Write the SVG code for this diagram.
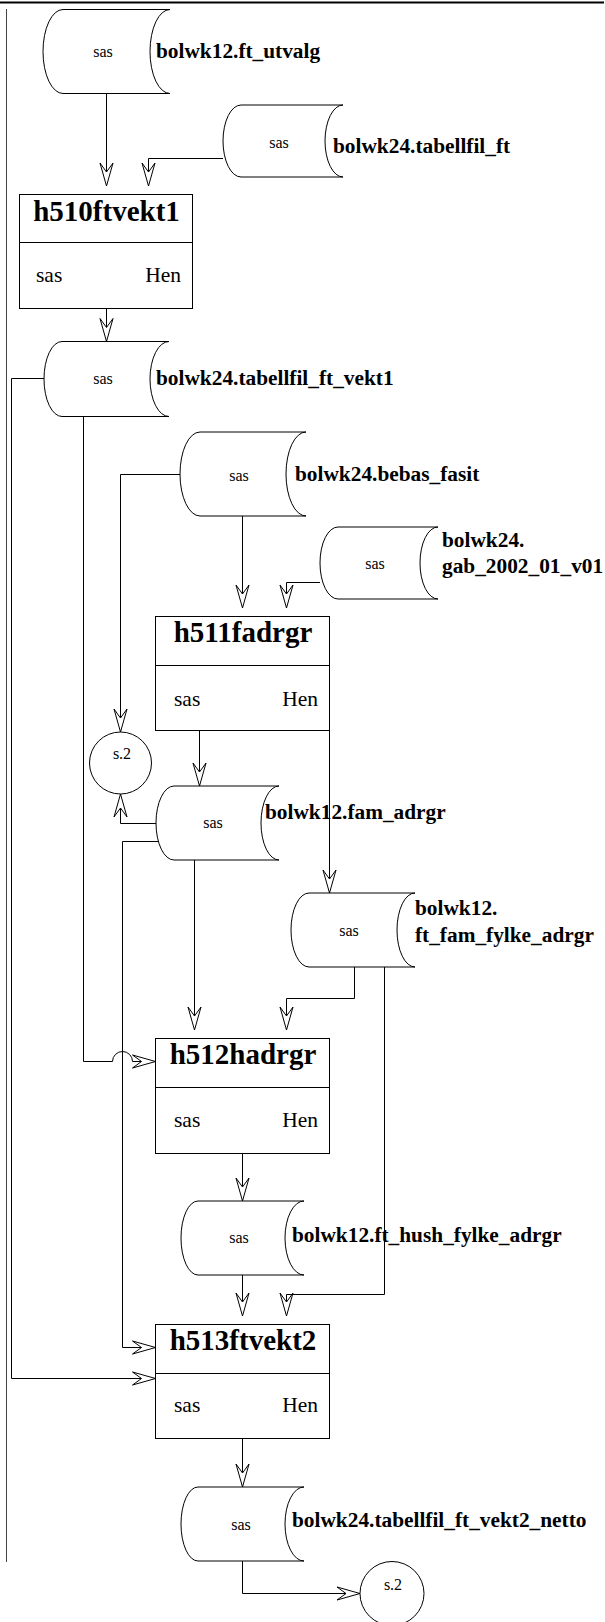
<svg xmlns="http://www.w3.org/2000/svg" width="605" height="1622" viewBox="0 0 605 1622" font-family="'Liberation Serif', 'Times New Roman', 'DejaVu Serif', serif">
<defs>
<style>
text{font-family:'Liberation Serif','Times New Roman','DejaVu Serif',serif;fill:#000}
.shape{fill:#fff;stroke:#000;stroke-width:1}
.ln{fill:none;stroke:#000;stroke-width:1}
.title{font-weight:bold;font-size:29px;text-anchor:middle}
.body{font-size:21.5px}
.small{font-size:16px;text-anchor:middle}
.lbl{font-weight:bold;font-size:21.33px}
</style>
<marker id="arr" viewBox="-25 -8 27 16" refX="0" refY="0" markerWidth="27" markerHeight="16" orient="auto" markerUnits="userSpaceOnUse">
<path d="M0,0 L-23,-6.5 L-14,0 L-23,6.5 Z" fill="#fff" stroke="#000" stroke-width="1"/>
</marker>
</defs>
<rect width="605" height="1622" fill="#fff"/>
<g id="frame">
<line x1="0" y1="2.5" x2="604" y2="2.5" stroke="#000" stroke-width="2"/>
<line x1="6.5" y1="9" x2="6.5" y2="1562" stroke="#444" stroke-width="1"/>
</g>
<g id="connectors">
<path class="ln" d="M106.5,93.5 V186" marker-end="url(#arr)"/>
<path class="ln" d="M223,158.5 H148.5 V186" marker-end="url(#arr)"/>
<path class="ln" d="M106.5,308.5 V341.5" marker-end="url(#arr)"/>
<path class="ln" d="M44,378.5 H11.5 V1378.5 H155.5" marker-end="url(#arr)"/>
<path class="ln" d="M83.5,416.5 V1061.5 H112.5 A10,10 0 0 1 132.5,1061.5 H155.5" marker-end="url(#arr)"/>
<path class="ln" d="M180,474.5 H120.5 V732" marker-end="url(#arr)"/>
<path class="ln" d="M242.5,516 V608" marker-end="url(#arr)"/>
<path class="ln" d="M320,582.5 H286.5 V608" marker-end="url(#arr)"/>
<path class="ln" d="M199.5,730.5 V786" marker-end="url(#arr)"/>
<path class="ln" d="M329.5,730.5 V893" marker-end="url(#arr)"/>
<path class="ln" d="M156,823.5 H120.5 V794" marker-end="url(#arr)"/>
<path class="ln" d="M158,841.5 H122.5 V1347.5 H155.5" marker-end="url(#arr)"/>
<path class="ln" d="M194.5,860 V1030" marker-end="url(#arr)"/>
<path class="ln" d="M354.5,967 V998.5 H286.5 V1030" marker-end="url(#arr)"/>
<path class="ln" d="M384.5,967 V1294.5 H286.5 V1316" marker-end="url(#arr)"/>
<path class="ln" d="M242.5,1153.5 V1201" marker-end="url(#arr)"/>
<path class="ln" d="M242.5,1275 V1316" marker-end="url(#arr)"/>
<path class="ln" d="M242.5,1438.5 V1487" marker-end="url(#arr)"/>
<path class="ln" d="M242.5,1561 V1593.5 H360" marker-end="url(#arr)"/>
</g>
<g id="cyl_ft_utvalg">
<path class="shape" d="M63,9.5 H170 A20,42 0 0 0 170,93.5 H63 A20,42 0 0 1 63,9.5 Z"/>
<text class="small" x="103" y="57">sas</text>
<text class="lbl" x="156" y="58">bolwk12.ft_utvalg</text>
</g>
<g id="cyl_tabellfil_ft">
<path class="shape" d="M241,105 H343 A18,36 0 0 0 343,177 H241 A18,36 0 0 1 241,105 Z"/>
<text class="small" x="279" y="148">sas</text>
<text class="lbl" x="333" y="153">bolwk24.tabellfil_ft</text>
</g>
<g id="h510ftvekt1">
<rect class="shape" x="19.5" y="194.5" width="173" height="114"/>
<line class="ln" x1="19.5" y1="242.5" x2="192.5" y2="242.5"/>
<text class="title" x="106.5" y="221">h510ftvekt1</text>
<text class="body" x="36" y="282">sas</text>
<text class="body" x="181" y="282" text-anchor="end">Hen</text>
</g>
<g id="cyl_tabellfil_ft_vekt1">
<path class="shape" d="M62,341.5 H169 A19,37.5 0 0 0 169,416.5 H62 A18,37.5 0 0 1 62,341.5 Z"/>
<text class="small" x="103" y="384">sas</text>
<text class="lbl" x="156" y="385">bolwk24.tabellfil_ft_vekt1</text>
</g>
<g id="cyl_bebas_fasit">
<path class="shape" d="M200,432 H306 A20,42 0 0 0 306,516 H200 A20,42 0 0 1 200,432 Z"/>
<text class="small" x="239" y="481">sas</text>
<text class="lbl" x="295" y="481">bolwk24.bebas_fasit</text>
</g>
<g id="cyl_gab_2002_01_v01">
<path class="shape" d="M338,527 H438 A18,36 0 0 0 438,599 H338 A18,36 0 0 1 338,527 Z"/>
<text class="small" x="375" y="569">sas</text>
<text class="lbl" x="442" y="547">bolwk24.</text>
<text class="lbl" x="442" y="573">gab_2002_01_v01</text>
</g>
<g id="h511fadrgr">
<rect class="shape" x="155.5" y="616.5" width="174" height="114"/>
<line class="ln" x1="155.5" y1="665.5" x2="329.5" y2="665.5"/>
<text class="title" x="243" y="642">h511fadrgr</text>
<text class="body" x="174" y="706">sas</text>
<text class="body" x="318" y="706" text-anchor="end">Hen</text>
</g>
<g id="s2_top">
<circle class="shape" cx="120.5" cy="763" r="31"/>
<text class="small" x="122" y="759">s.2</text>
</g>
<g id="cyl_fam_adrgr">
<path class="shape" d="M174,786 H279 A18,37 0 0 0 279,860 H174 A18,37 0 0 1 174,786 Z"/>
<text class="small" x="213" y="828">sas</text>
<text class="lbl" x="265" y="819">bolwk12.fam_adrgr</text>
</g>
<g id="cyl_ft_fam_fylke_adrgr">
<path class="shape" d="M309,893 H415 A18,37 0 0 0 415,967 H309 A18,37 0 0 1 309,893 Z"/>
<text class="small" x="349" y="936">sas</text>
<text class="lbl" x="415" y="915">bolwk12.</text>
<text class="lbl" x="415" y="942">ft_fam_fylke_adrgr</text>
</g>
<g id="h512hadrgr">
<rect class="shape" x="155.5" y="1038.5" width="174" height="115"/>
<line class="ln" x1="155.5" y1="1087.5" x2="329.5" y2="1087.5"/>
<text class="title" x="243" y="1064">h512hadrgr</text>
<text class="body" x="174" y="1127">sas</text>
<text class="body" x="318" y="1127" text-anchor="end">Hen</text>
</g>
<g id="cyl_ft_hush_fylke_adrgr">
<path class="shape" d="M198,1201 H304 A19,37 0 0 0 304,1275 H198 A17,37 0 0 1 198,1201 Z"/>
<text class="small" x="239" y="1243">sas</text>
<text class="lbl" x="292" y="1242">bolwk12.ft_hush_fylke_adrgr</text>
</g>
<g id="h513ftvekt2">
<rect class="shape" x="155.5" y="1324.5" width="174" height="114"/>
<line class="ln" x1="155.5" y1="1373.5" x2="329.5" y2="1373.5"/>
<text class="title" x="243" y="1350">h513ftvekt2</text>
<text class="body" x="174" y="1412">sas</text>
<text class="body" x="318" y="1412" text-anchor="end">Hen</text>
</g>
<g id="cyl_tabellfil_ft_vekt2_netto">
<path class="shape" d="M198,1487 H304 A19,37 0 0 0 304,1561 H198 A17,37 0 0 1 198,1487 Z"/>
<text class="small" x="241" y="1530">sas</text>
<text class="lbl" x="292" y="1527">bolwk24.tabellfil_ft_vekt2_netto</text>
</g>
<g id="s2_bottom">
<circle class="shape" cx="392" cy="1593.5" r="32"/>
<text class="small" x="393" y="1590">s.2</text>
</g>
</svg>
